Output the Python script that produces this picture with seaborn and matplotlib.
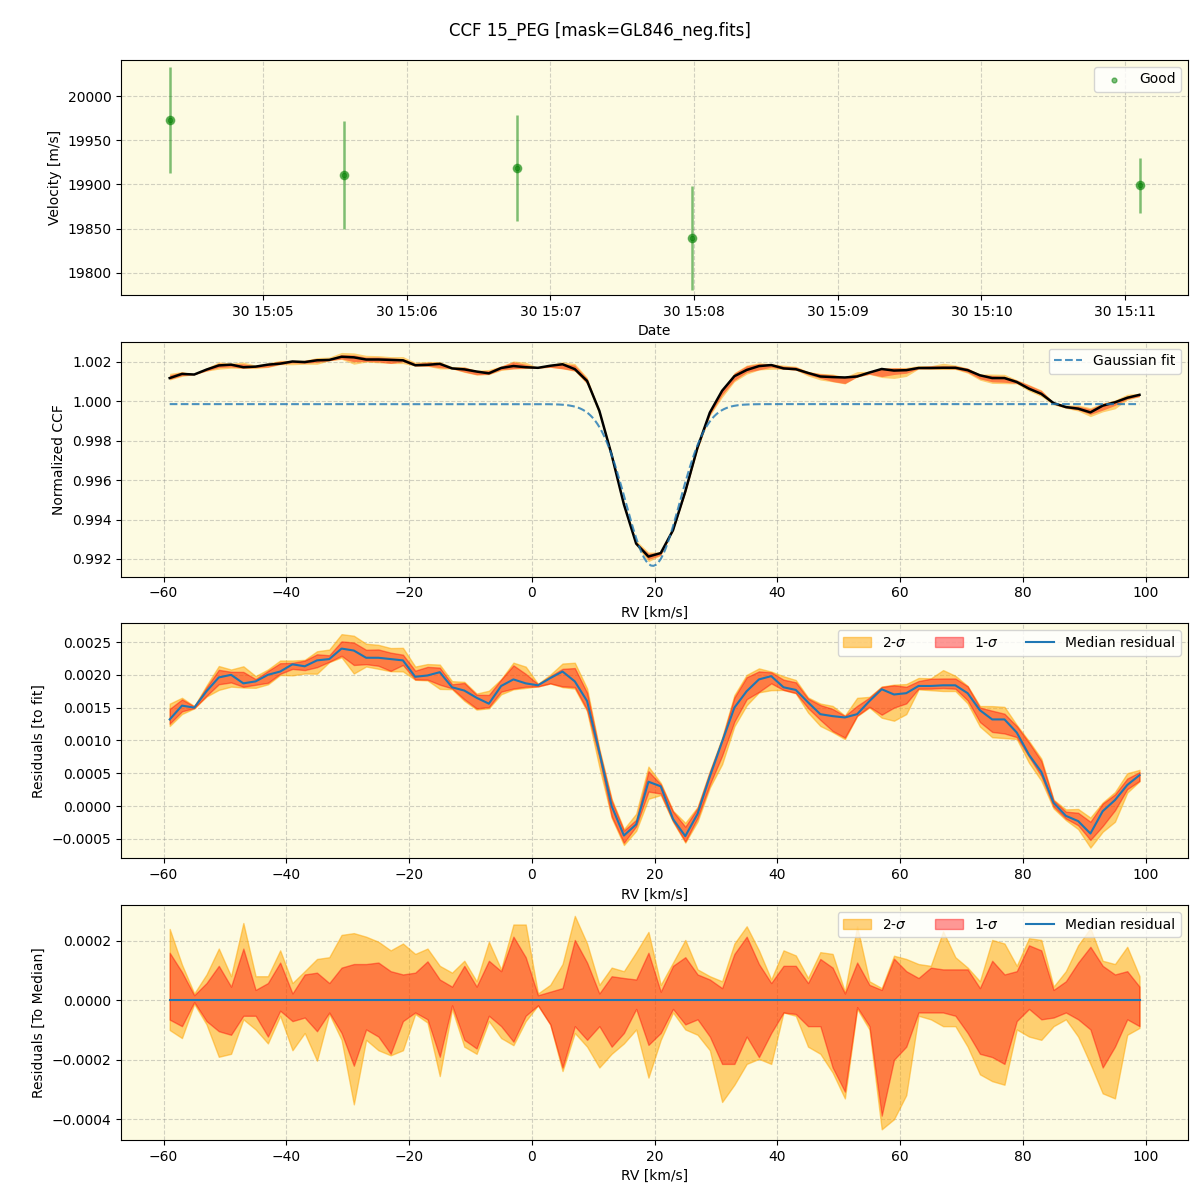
"""
CCF 15_PEG: velocity time series and CCF residuals
"""
from datetime import datetime
from matplotlib import pyplot as plt
from matplotlib.ticker import MultipleLocator
import matplotlib.dates as mdates
import numpy as np
import seaborn as sns

# --- data ------------------------------------------------------------------
obs_times = ['2023-10-30 15:04:21', '2023-10-30 15:05:34', '2023-10-30 15:06:46',
             '2023-10-30 15:07:59', '2023-10-30 15:11:06']
obs_rv = [19973, 19911, 19919, 19839, 19899]
obs_err = [60, 61, 60, 59, 31]

# gaussian fit parameters
fit_cont = 0.99985
fit_depth = 0.0082
fit_center = 19.7
fit_sigma = 4.4

# RV grid of the CCF (km/s)
rv = np.arange(-59, 100, 2)

# median residual to the fit (x1e-3)
median_res = [1.32, 1.53, 1.50, 1.75, 1.96, 2.00, 1.87, 1.90, 2.00, 2.05,
              2.16, 2.13, 2.22, 2.24, 2.40, 2.37, 2.26, 2.26, 2.24, 2.22,
              1.97, 1.99, 2.04, 1.81, 1.76, 1.65, 1.56, 1.83, 1.93, 1.87,
              1.84, 1.95, 2.05, 1.90, 1.60, 0.82, 0.00, -0.45, -0.28, 0.37,
              0.30, -0.20, -0.46, -0.12, 0.45, 0.98, 1.50, 1.75, 1.93, 1.98,
              1.81, 1.77, 1.58, 1.40, 1.37, 1.35, 1.40, 1.60, 1.78, 1.70,
              1.72, 1.83, 1.83, 1.84, 1.84, 1.72, 1.46, 1.32, 1.32, 1.12,
              0.78, 0.52, 0.05, -0.15, -0.23, -0.42, -0.08, 0.09, 0.32, 0.47]

# residuals to the median (x1e-4)
up_2sig = [2.4, 1.2, 0.23, 0.87, 1.74, 0.81, 2.6, 0.81, 0.81, 1.68,
           0.58, 0.98, 1.39, 1.45, 2.2, 2.26, 2.14, 1.97, 1.68, 1.91,
           1.56, 1.74, 1.16, 0.93, 1.33, 0.64, 1.97, 1.04, 2.55, 2.55,
           0.23, 0.52, 1.22, 2.84, 1.91, 0.52, 1.10, 0.98, 1.62, 2.3,
           0.52, 1.27, 2.03, 1.04, 0.81, 0.64, 1.91, 2.49, 1.68, 0.70,
           1.68, 1.51, 0.75, 1.62, 1.56, 0.29, 2.49, 0.64, 0.41, 1.5,
           1.39, 1.22, 1.16, 2.32, 1.45, 1.10, 0.64, 2.03, 1.91, 1.16,
           2.09, 2.03, 0.46, 0.98, 1.85, 2.43, 1.33, 1.22, 1.80, 0.81]
up_1sig = [1.6, 0.95, 0.17, 0.58, 1.16, 0.46, 1.74, 0.35, 0.58, 1.27,
           0.23, 0.87, 0.93, 0.58, 1.10, 1.22, 1.22, 1.27, 0.98, 0.87,
           0.93, 1.31, 0.70, 0.46, 1.16, 0.46, 1.33, 0.98, 2.14, 1.45,
           0.17, 0.29, 0.41, 2.03, 1.27, 0.23, 0.81, 0.75, 0.70, 1.6,
           0.29, 1.16, 1.45, 0.87, 0.70, 0.41, 1.56, 2.14, 1.22, 0.58,
           1.16, 1.16, 0.58, 1.39, 1.10, 0.23, 1.27, 0.52, 0.35, 1.4,
           0.98, 0.75, 1.10, 1.04, 1.04, 1.04, 0.41, 1.33, 0.87, 0.98,
           1.85, 1.68, 0.35, 0.64, 1.27, 1.80, 1.16, 0.87, 0.98, 0.46]
low_1sig = [-0.65, -0.87, -0.06, -0.70, -1.04, -1.16, -0.52, -0.52, -1.22, -0.35,
            -0.70, -0.58, -1.04, -0.41, -1.10, -2.2, -0.98, -1.22, -1.80, -0.70,
            -0.41, -0.64, -1.90, -0.17, -1.33, -1.62, -0.52, -0.87, -1.39, -0.52,
            -0.17, -0.81, -2.26, -0.87, -1.33, -0.87, -1.56, -1.10, -0.29, -1.5,
            -1.10, -0.29, -0.81, -0.64, -1.22, -2.14, -2.14, -1.22, -1.91, -1.10,
            -0.41, -0.46, -0.87, -0.87, -2.26, -3.07, -0.23, -0.87, -3.88, -2.0,
            -1.56, -0.41, -0.41, -0.41, -0.52, -1.10, -1.80, -1.91, -2.14, -0.70,
            -0.29, -0.64, -0.58, -0.41, -0.64, -0.98, -2.26, -1.56, -0.64, -0.87]
low_2sig = [-1.0, -1.27, -0.12, -0.81, -1.9, -1.8, -0.64, -0.98, -1.45, -0.52,
            -1.68, -1.10, -2.03, -0.46, -1.33, -3.5, -1.33, -1.68, -1.85, -1.68,
            -0.46, -0.75, -2.55, -0.29, -1.56, -1.80, -0.70, -1.27, -1.51, -0.70,
            -0.17, -0.81, -2.38, -1.10, -1.56, -2.26, -1.80, -1.45, -0.98, -2.6,
            -1.33, -0.41, -0.98, -1.16, -1.68, -3.42, -2.84, -2.14, -1.97, -2.14,
            -0.41, -0.52, -1.56, -1.80, -2.43, -3.30, -0.29, -0.98, -4.34, -4.0,
            -3.19, -0.52, -0.64, -0.87, -0.87, -1.56, -2.49, -2.72, -2.84, -0.98,
            -1.22, -1.33, -0.87, -0.64, -1.22, -2.14, -3.13, -3.30, -1.16, -0.93]

title = 'CCF 15_PEG [mask=GL846_neg.fits]'

# --- derived curves --------------------------------------------------------
med = np.array(median_res) * 1e-3
u2, u1 = np.array(up_2sig) * 1e-4, np.array(up_1sig) * 1e-4
l1, l2 = np.array(low_1sig) * 1e-4, np.array(low_2sig) * 1e-4

def gauss(x):
    return fit_cont - fit_depth * np.exp(-0.5 * ((x - fit_center) / fit_sigma) ** 2)

fit = gauss(rv)
ccf = fit + med
rv_fine = np.linspace(rv[0], rv[-1], 400)

bg = '#fdfbe2'
c2, c1 = 'orange', 'red'

fig, axes = plt.subplots(4, 1, figsize=(12, 12))
fig.subplots_adjust(left=0.101, right=0.99, top=0.95, bottom=0.05, hspace=0.2)
for ax in axes:
    ax.set_facecolor(bg)
    ax.set_axisbelow(True)
    ax.grid(True, linestyle='--', color='gray', alpha=0.35)

# 1. velocity vs date
ax = axes[0]
t = [datetime.strptime(s, '%Y-%m-%d %H:%M:%S') for s in obs_times]
ax.errorbar(t, obs_rv, yerr=obs_err, fmt='o', color='green', alpha=0.5,
            ms=6, elinewidth=1.8)
ax.scatter(t, obs_rv, s=12, color='green', alpha=0.5, label='Good')
ax.xaxis.set_major_locator(mdates.MinuteLocator())
ax.xaxis.set_major_formatter(mdates.DateFormatter('%d %H:%M'))
ax.set_ylim(19775, 20041)
ax.set_xlabel('Date')
ax.set_ylabel('Velocity [m/s]')
ax.legend(loc='upper right')

# 2. normalized CCF
ax = axes[1]
ax.fill_between(rv, ccf + l2, ccf + u2, color=c2, alpha=0.5, lw=0)
ax.fill_between(rv, ccf + l1, ccf + u1, color=c1, alpha=0.4, lw=0)
sns.lineplot(x=rv, y=ccf, ax=ax, color='black', lw=1.8)
sns.lineplot(x=rv_fine, y=gauss(rv_fine), ax=ax, color='C0', alpha=0.8,
             linestyle='--', lw=1.5, label='Gaussian fit')
ax.set_xlabel('RV [km/s]')
ax.set_ylabel('Normalized CCF')
ax.legend(loc='upper right')

# 3. residuals to fit
ax = axes[2]
ax.fill_between(rv, med + l2, med + u2, color=c2, alpha=0.5, label='2-$\\sigma$')
ax.fill_between(rv, med + l1, med + u1, color=c1, alpha=0.4, label='1-$\\sigma$')
sns.lineplot(x=rv, y=med, ax=ax, color='C0', lw=1.5, label='Median residual')
ax.set_xlabel('RV [km/s]')
ax.set_ylabel('Residuals [to fit]')
ax.legend(loc='upper right', ncol=3)

# 4. residuals to median
ax = axes[3]
ax.fill_between(rv, l2, u2, color=c2, alpha=0.5, label='2-$\\sigma$')
ax.fill_between(rv, l1, u1, color=c1, alpha=0.4, label='1-$\\sigma$')
sns.lineplot(x=rv, y=np.zeros_like(med), ax=ax, color='C0', lw=1.5,
             label='Median residual')
ax.yaxis.set_major_locator(MultipleLocator(0.0002))
ax.set_xlabel('RV [km/s]')
ax.set_ylabel('Residuals [To Median]')
ax.legend(loc='upper right', ncol=3)

fig.suptitle(title, fontsize=12, y=0.982)
fig.savefig('out.png', dpi=100)
